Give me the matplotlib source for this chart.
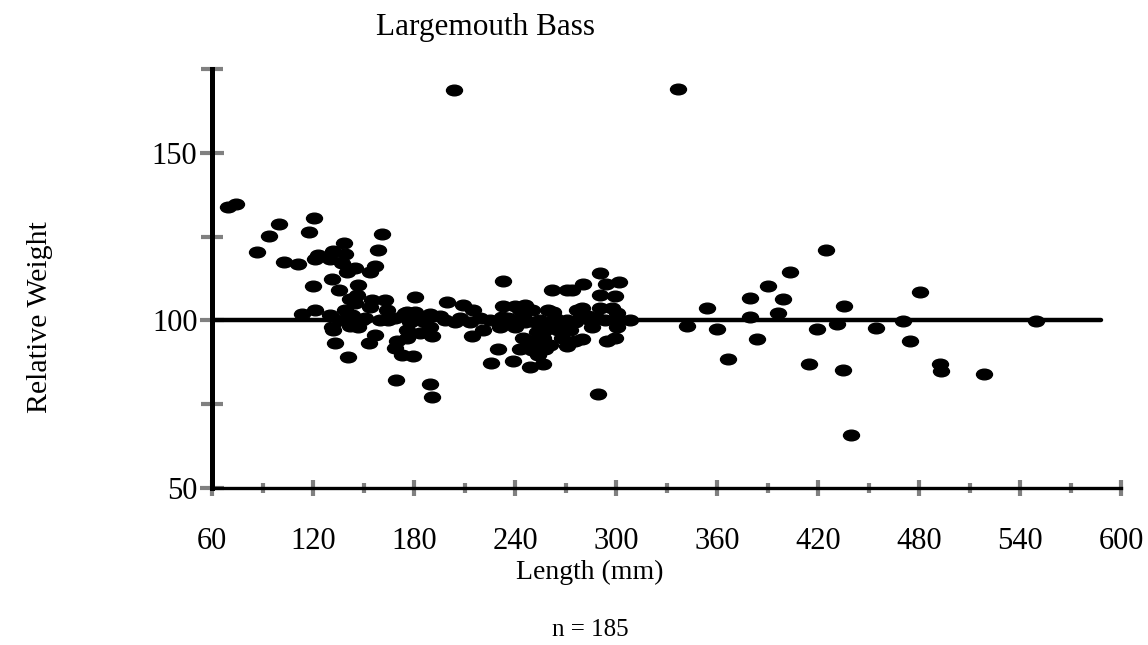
import matplotlib
matplotlib.use("Agg")
import matplotlib.pyplot as plt
from matplotlib.path import Path
from matplotlib.transforms import Affine2D
from matplotlib.ticker import MultipleLocator

plt.rcParams['font.family'] = ['Liberation Serif', 'DejaVu Serif']

# Length (mm) and relative weight for each fish
length_mm = [
    69.5, 74.3, 86.7, 93.9, 99.8, 102.8, 111.1, 117.6, 120.6, 121.2,
    123.0, 130.1, 131.9, 139.0, 138.4, 161.0, 158.6, 137.2, 145.0, 140.2,
    156.8, 153.9, 131.3, 120.0, 146.7, 135.4, 146.1, 142.0, 155.0, 162.8,
    145.0, 153.9, 164.0, 139.0, 113.5, 121.2, 130.1, 143.2, 143.8, 174.7,
    131.3, 146.7, 131.9, 156.8, 133.1, 153.3, 169.9, 168.7, 172.9, 140.8,
    169.3, 175.8, 180.6, 199.6, 209.1, 215.1, 232.9, 232.9, 240.0, 245.9,
    250.1, 175.8, 180.6, 189.5, 232.3, 244.7, 204.4, 189.5, 221.0, 231.1,
    240.0, 175.8, 183.6, 190.7, 214.5, 244.7, 250.7, 164.6, 179.4, 229.9,
    243.0, 250.1, 225.7, 238.8, 248.9, 189.5, 190.7, 203.8, 336.8, 290.5,
    280.4, 294.1, 301.8, 262.0, 270.9, 273.9, 290.5, 299.4, 279.8, 290.5,
    259.6, 300.6, 283.4, 254.9, 270.9, 308.3, 285.8, 300.6, 265.6, 253.1,
    279.8, 294.7, 299.4, 256.6, 267.9, 270.9, 257.8, 253.7, 256.6, 289.3,
    251.9, 260.8, 263.7, 257.8, 275.6, 278.6, 288.7, 342.2, 354.1, 360.0,
    366.5, 379.6, 379.6, 383.8, 390.3, 396.3, 399.2, 403.4, 419.4, 424.8,
    431.3, 435.4, 439.6, 454.4, 470.5, 474.7, 480.6, 492.5, 493.1, 518.6,
    549.5, 414.6, 434.8,
    136.0, 149.1, 159.8, 168.7, 183.6, 198.4, 213.3, 225.1, 237.0, 245.9,
    254.9, 262.6, 267.9, 272.7, 276.8, 284.6, 293.5, 297.6, 302.4, 247.7,
    253.1, 260.8, 275.6, 243.0, 235.8, 219.2, 207.3, 195.5, 186.5, 177.6,
    150.9, 142.0,
]
rel_weight = [
    133.9, 134.8, 120.5, 125.3, 128.9, 117.3, 116.7, 126.5, 130.7, 118.2,
    119.6, 118.2, 120.8, 119.9, 123.2, 125.9, 121.1, 117.0, 115.5, 114.3,
    116.1, 114.3, 112.5, 110.4, 110.7, 109.2, 107.7, 106.5, 106.0, 106.2,
    105.1, 103.9, 103.0, 103.0, 101.8, 103.0, 101.5, 101.5, 99.4, 102.1,
    97.9, 97.9, 97.0, 95.5, 93.2, 93.2, 94.0, 91.7, 89.6, 89.0,
    82.1, 94.9, 107.1, 105.4, 104.5, 103.0, 111.9, 104.2, 104.2, 104.5,
    103.0, 102.4, 102.4, 101.8, 100.9, 100.9, 99.4, 97.9, 97.0, 97.9,
    97.9, 97.0, 96.1, 95.2, 95.2, 94.9, 94.0, 100.0, 89.3, 91.4,
    91.4, 91.1, 87.2, 87.8, 86.0, 81.0, 77.1, 168.7, 169.0, 114.0,
    111.0, 111.0, 111.6, 109.2, 109.2, 109.2, 107.7, 107.4, 103.6, 103.6,
    103.0, 102.1, 101.2, 100.0, 100.0, 100.0, 97.9, 97.9, 97.0, 96.4,
    94.6, 94.0, 94.9, 94.9, 94.9, 92.3, 91.4, 89.6, 86.9, 78.0,
    99.4, 98.5, 100.6, 97.0, 99.4, 100.6, 100.6, 98.2, 103.6, 97.3,
    88.4, 106.8, 100.9, 94.6, 110.4, 102.1, 106.5, 114.3, 97.3, 121.1,
    98.8, 104.2, 65.8, 97.6, 99.7, 93.8, 108.6, 86.9, 84.8, 83.9,
    99.7, 86.9, 85.1,
    100.0, 100.0, 100.0, 100.6, 100.0, 100.0, 99.4, 100.0, 100.0, 99.4,
    98.2, 102.4, 98.2, 97.0, 103.0, 100.0, 100.0, 103.6, 100.0, 92.6,
    93.2, 92.6, 94.0, 103.0, 100.6, 100.6, 100.6, 101.2, 99.4, 99.4,
    100.6, 98.2,
]
ref_x = [60, 588]
ref_y = [100, 100]

fig = plt.figure(figsize=(11.48, 6.45), dpi=100)
ax = fig.add_axes([0.1847, 0.2434, 0.7918, 0.6496])

# flat ellipse marker like the original
ellipse = Affine2D().scale(1.5, 1.0).transform_path(Path.unit_circle())

ax.plot(ref_x, ref_y, color='black', lw=3.2, solid_capstyle='round', zorder=2)
ax.plot(length_mm, rel_weight, linestyle='none', marker=ellipse,
        markersize=11.5, color='black', zorder=3)

ax.set_xlim(60, 600)
ax.set_ylim(50, 175)
ax.xaxis.set_major_locator(MultipleLocator(60))
ax.xaxis.set_minor_locator(MultipleLocator(30))
ax.yaxis.set_major_locator(MultipleLocator(50))
ax.yaxis.set_minor_locator(MultipleLocator(25))

for s in ['top', 'right']:
    ax.spines[s].set_visible(False)
ax.spines['left'].set_linewidth(3.6)
ax.spines['bottom'].set_linewidth(2.4)
ax.spines['left'].set_zorder(4)

ax.tick_params(axis='both', which='both', direction='inout', color='#808080', width=3)
ax.tick_params(axis='x', which='major', length=12, pad=22, labelsize=22)
ax.tick_params(axis='x', which='minor', length=7)
ax.tick_params(axis='y', which='major', length=17, pad=2, labelsize=22)
ax.tick_params(axis='y', which='minor', length=16)

fig.text(0.4225, 0.957, 'Largemouth Bass', ha='center', va='center', fontsize=22.5)
fig.text(0.035, 0.508, 'Relative Weight', ha='center', va='center', rotation=90, fontsize=21.5)
fig.text(0.514, 0.112, 'Length (mm)', ha='center', va='center', fontsize=20)
fig.text(0.514, 0.023, 'n = 185', ha='center', va='center', fontsize=18)

fig.savefig('out.png', dpi=100)
